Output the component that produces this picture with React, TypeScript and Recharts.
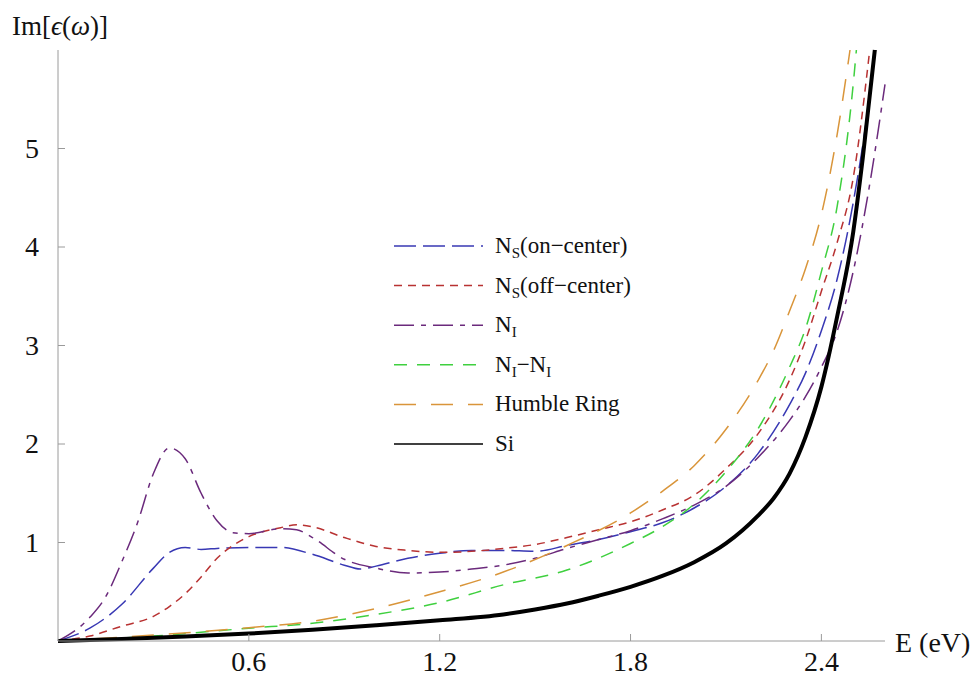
import React from "react"
import { LineChart, Line, XAxis, YAxis } from "recharts"

// energies (eV) and Im[eps] values
const onCenterE = [0, 0.1, 0.2, 0.3, 0.35, 0.4, 0.45, 0.5, 0.6, 0.7, 0.8, 0.9, 0.95, 1.0, 1.1, 1.2, 1.3, 1.4, 1.5, 1.6, 1.7, 1.8, 1.9, 2.0, 2.1, 2.2, 2.3, 2.35, 2.4, 2.45, 2.5, 2.55, 2.568]
const onCenterIm = [0, 0.13, 0.37, 0.74, 0.9, 0.95, 0.93, 0.94, 0.95, 0.95, 0.88, 0.77, 0.73, 0.76, 0.84, 0.89, 0.92, 0.92, 0.91, 0.97, 1.03, 1.11, 1.2, 1.35, 1.57, 1.9, 2.4, 2.72, 3.15, 3.68, 4.45, 5.5, 6.0]

const offCenterE = [0, 0.1, 0.2, 0.3, 0.35, 0.4, 0.45, 0.5, 0.55, 0.6, 0.7, 0.75, 0.8, 0.9, 1.0, 1.1, 1.2, 1.3, 1.4, 1.5, 1.6, 1.7, 1.8, 1.9, 2.0, 2.1, 2.2, 2.3, 2.35, 2.4, 2.45, 2.5, 2.552]
const offCenterIm = [0, 0.05, 0.15, 0.25, 0.35, 0.48, 0.65, 0.84, 0.97, 1.06, 1.15, 1.18, 1.16, 1.05, 0.96, 0.92, 0.9, 0.91, 0.94, 0.98, 1.05, 1.13, 1.21, 1.33, 1.48, 1.75, 2.1, 2.65, 3.05, 3.55, 4.05, 4.7, 6.0]

const interstitialE = [0, 0.1, 0.15, 0.2, 0.25, 0.3, 0.35, 0.4, 0.45, 0.5, 0.55, 0.6, 0.7, 0.75, 0.8, 0.9, 1.0, 1.1, 1.2, 1.3, 1.4, 1.5, 1.6, 1.7, 1.8, 1.9, 2.0, 2.1, 2.2, 2.3, 2.35, 2.4, 2.45, 2.5, 2.55, 2.6]
const interstitialIm = [0, 0.24, 0.45, 0.8, 1.2, 1.7, 1.96, 1.85, 1.5, 1.22, 1.1, 1.09, 1.14, 1.13, 1.05, 0.83, 0.74, 0.69, 0.7, 0.73, 0.77, 0.84, 0.94, 1.03, 1.12, 1.24, 1.38, 1.57, 1.86, 2.24, 2.48, 2.78, 3.15, 3.75, 4.6, 5.65]

const pairE = [0, 0.3, 0.6, 0.8, 1.0, 1.2, 1.4, 1.6, 1.8, 1.9, 2.0, 2.1, 2.2, 2.3, 2.35, 2.4, 2.45, 2.5, 2.51]
const pairIm = [0, 0.05, 0.13, 0.18, 0.27, 0.39, 0.57, 0.72, 0.99, 1.16, 1.39, 1.72, 2.15, 2.78, 3.17, 3.75, 4.42, 5.65, 6.0]

const ringE = [0, 0.3, 0.6, 0.8, 1.0, 1.2, 1.4, 1.6, 1.8, 1.9, 2.0, 2.1, 2.2, 2.25, 2.3, 2.35, 2.4, 2.45, 2.49]
const ringIm = [0, 0.06, 0.135, 0.2, 0.33, 0.5, 0.7, 0.97, 1.3, 1.52, 1.78, 2.15, 2.64, 2.95, 3.35, 3.78, 4.33, 5.15, 6.0]

const siE = [0, 0.2, 0.4, 0.6, 0.8, 1.0, 1.2, 1.4, 1.5, 1.6, 1.7, 1.8, 1.9, 2.0, 2.1, 2.2, 2.25, 2.3, 2.35, 2.4, 2.45, 2.5, 2.53, 2.568]
const siIm = [0, 0.02, 0.045, 0.075, 0.115, 0.16, 0.21, 0.27, 0.32, 0.38, 0.46, 0.55, 0.66, 0.8, 0.99, 1.27, 1.45, 1.7, 2.07, 2.58, 3.3, 4.15, 4.9, 6.0]

const xTicks = [0.6, 1.2, 1.8, 2.4]
const yTicks = [1, 2, 3, 4, 5]

const zip = (es: number[], vs: number[]) => es.map((e, i) => ({ e, v: vs[i] }))

const series = [
  { key: "on", data: zip(onCenterE, onCenterIm), color: "#3838b4", width: 1.5, dash: "22 7", sub: "S", pre: "N", post: "(on\u2212center)" },
  { key: "off", data: zip(offCenterE, offCenterIm), color: "#b83232", width: 1.5, dash: "8 6", sub: "S", pre: "N", post: "(off\u2212center)" },
  { key: "ni", data: zip(interstitialE, interstitialIm), color: "#6b2a7c", width: 1.5, dash: "20 7 5 7", sub: "I", pre: "N", post: "" },
  { key: "nini", data: zip(pairE, pairIm), color: "#3fd03f", width: 1.5, dash: "13 10", sub: "I", pre: "N", post: "\u2212N" },
  { key: "ring", data: zip(ringE, ringIm), color: "#d9953a", width: 1.5, dash: "22 15", sub: "", pre: "Humble Ring", post: "" },
  { key: "si", data: zip(siE, siIm), color: "#000000", width: 4, dash: undefined, sub: "", pre: "Si", post: "" },
]

const FONT = "Liberation Serif"
const AXIS = "#9a9a9a"

function YTick(props: any) {
  const { x, y, payload } = props
  return (
    <g>
      <line x1={x} x2={x + 7} y1={y} y2={y} stroke={AXIS} />
      <text x={x - 19} y={y + 9} textAnchor="end" fontFamily={FONT} style={{ fontFamily: FONT }} fontSize={28} fill="#111">
        {payload.value}
      </text>
    </g>
  )
}

function XTick(props: any) {
  const { x, y, payload } = props
  return (
    <g>
      <line x1={x} x2={x} y1={y} y2={y - 7} stroke={AXIS} />
      <text x={x} y={y + 30} textAnchor="middle" fontFamily={FONT} style={{ fontFamily: FONT }} fontSize={28} fill="#111">
        {payload.value}
      </text>
    </g>
  )
}

function LegendLabel({ s }: { s: (typeof series)[number] }) {
  if (s.key === "nini") {
    return (
      <>
        N<tspan dy={5} fontSize={15}>I</tspan>
        <tspan dy={-5}>{"\u2212N"}</tspan>
        <tspan dy={5} fontSize={15}>I</tspan>
      </>
    )
  }
  if (!s.sub) return <>{s.pre}</>
  return (
    <>
      {s.pre}
      <tspan dy={5} fontSize={15}>{s.sub}</tspan>
      {s.post ? <tspan dy={-5}>{s.post}</tspan> : null}
    </>
  )
}

export default function App() {
  return (
    <div style={{ position: "absolute", left: 0, top: 0, width: 972, height: 677, background: "#fff", fontFamily: FONT }}>
      <LineChart width={972} height={677} margin={{ top: 50, right: 87, bottom: 0, left: 0 }} style={{ fontFamily: FONT }}>
        <XAxis
          type="number"
          dataKey="e"
          domain={[0, 2.6]}
          ticks={xTicks}
          allowDuplicatedCategory={false}
          stroke={AXIS}
          tickLine={false}
          tickSize={0}
          tickMargin={0}
          height={36}
          tick={<XTick />}
          label={({ viewBox }: any) => (
            <text x={viewBox.x + viewBox.width + 10} y={viewBox.y + 11} fontFamily={FONT} style={{ fontFamily: FONT }} fontSize={28} fill="#111">
              E (eV)
            </text>
          )}
        />
        <YAxis
          type="number"
          domain={[0, 6]}
          ticks={yTicks}
          stroke={AXIS}
          tickLine={false}
          tickSize={0}
          tickMargin={0}
          width={58}
          tick={<YTick />}
          label={({ viewBox }: any) => (
            <text x={12} y={viewBox.y - 15} fontFamily={FONT} style={{ fontFamily: FONT }} fontSize={27} fill="#111">
              Im[<tspan fontStyle="italic">{"\u03f5"}</tspan>(<tspan fontStyle="italic">{"\u03c9"}</tspan>)]
            </text>
          )}
        />
        {series.map((s) => (
          <Line
            key={s.key}
            data={s.data}
            dataKey="v"
            type="monotone"
            stroke={s.color}
            strokeWidth={s.width}
            strokeDasharray={s.dash}
            dot={false}
            activeDot={false}
            isAnimationActive={false}
          />
        ))}
      </LineChart>
      <svg width={972} height={677} style={{ position: "absolute", left: 0, top: 0, pointerEvents: "none", fontFamily: FONT }}>
        {series.map((s, i) => {
          const y = 246 + i * 39.6
          return (
            <g key={s.key}>
              <line x1={394} x2={483} y1={y} y2={y} stroke={s.color} strokeWidth={1.5} strokeDasharray={s.dash} />
              <text x={495} y={y + 7} fontFamily={FONT} style={{ fontFamily: FONT }} fontSize={23} fill="#111">
                <LegendLabel s={s} />
              </text>
            </g>
          )
        })}
      </svg>
    </div>
  )
}
